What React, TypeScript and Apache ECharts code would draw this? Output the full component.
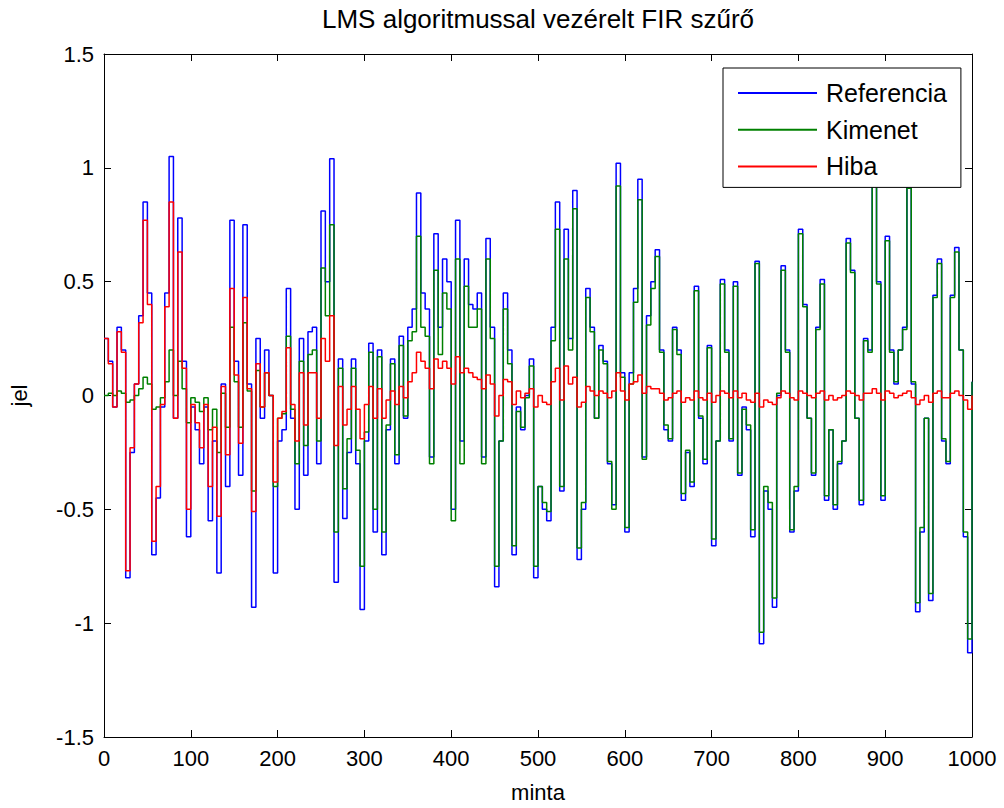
import React, { useEffect, useRef } from "react";
import * as echarts from "echarts";

const FONT = "'Liberation Sans', Arial, Helvetica, sans-serif";
const TITLE = "LMS algoritmussal vezérelt FIR szűrő";
const X_LABEL = "minta";
const Y_LABEL = "jel";
const SERIES_NAMES = ["Referencia", "Kimenet", "Hiba"];
const SERIES_COLORS = ["#0000ff", "#008000", "#ff0000"];

// sample spacing of the read values (one value every 5 samples, 0..1000)
const SAMPLE_STEP = 5;

// Referencia (reference signal)
const referencia = [
  0.25, 0.15, -0.05, 0.3, 0.2, -0.8, -0.25, 0.05, 0.35, 0.85,
  0.45, -0.7, -0.45, -0.05, 0.45, 1.05, -0.1, 0.78, 0.15, -0.62,
  -0.05, -0.15, -0.3, -0.05, -0.55, -0.2, -0.78, 0.05, -0.4, 0.77,
  0.15, -0.35, 0.75, 0.05, -0.93, 0.25, -0.1, 0.2, 0.0, -0.78,
  -0.2, -0.15, 0.47, -0.1, -0.5, 0.25, -0.35, 0.28, 0.3, -0.3,
  0.81, 0.5, 1.04, -0.82, 0.16, -0.54, -0.25, 0.16, -0.3, -0.94,
  -0.2, 0.23, -0.6, 0.2, -0.7, -0.15, 0.16, -0.3, 0.26, -0.1,
  0.3, 0.38, 0.89, 0.45, 0.38, -0.27, 0.71, 0.3, 0.6, 0.5,
  -0.5, 0.77, -0.2, 0.6, 0.4, 0.38, 0.45, -0.27, 0.69, 0.3,
  -0.84, -0.2, 0.45, 0.2, -0.7, -0.05, -0.15, 0.0, 0.16, -0.8,
  -0.4, -0.5, -0.55, 0.3, 0.85, -0.42, 0.73, 0.25, 0.9, -0.72,
  -0.5, 0.47, 0.3, -0.1, 0.22, 0.15, -0.3, -0.48, 1.02, 0.1,
  -0.6, 0.1, 0.47, 0.95, -0.27, 0.35, 0.5, 0.64, 0.2, -0.15,
  -0.2, 0.3, 0.2, -0.46, -0.25, -0.4, 0.48, -0.1, -0.3, 0.22,
  -0.66, -0.2, 0.51, 0.2, -0.2, 0.5, -0.35, -0.05, -0.15, -0.62,
  0.59, -1.09, -0.42, -0.5, -0.93, 0.0, 0.57, 0.2, -0.6, -0.42,
  0.73, 0.4, -0.1, -0.35, 0.3, 0.51, -0.46, -0.15, -0.5, -0.3,
  -0.2, 0.69, 0.55, -0.1, -0.48, 0.25, 0.2, 0.95, 0.5, -0.46,
  0.7, 0.2, 0.05, 0.2, 0.3, 0.93, 0.05, -0.95, -0.6, -0.1,
  -0.9, 0.44, 0.6, -0.2, -0.3, 0.44, 0.65, 0.2, -0.62, -1.13,
  0.06,
];

// Kimenet (filter output)
const kimenet = [
  0.0, 0.01, 0.0, 0.02, 0.01, -0.03, -0.02, 0.0, 0.03, 0.08,
  0.05, -0.06, -0.05, -0.01, 0.06, 0.2, 0.0, 0.15, 0.03, -0.12,
  -0.01, -0.03, -0.07, -0.01, -0.15, -0.06, -0.25, 0.01, -0.14, 0.3,
  0.06, -0.14, 0.32, 0.02, -0.42, 0.11, -0.05, 0.1, 0.0, -0.4,
  -0.1, -0.08, 0.26, -0.06, -0.3, 0.15, -0.22, 0.18, 0.2, -0.2,
  0.56, 0.35, 0.75, -0.6, 0.12, -0.41, -0.19, 0.12, -0.24, -0.75,
  -0.16, 0.19, -0.5, 0.17, -0.6, -0.13, 0.14, -0.26, 0.22, -0.09,
  0.24, 0.28, 0.7, 0.3, 0.26, -0.3, 0.55, 0.18, 0.45, 0.38,
  -0.55, 0.6, -0.3, 0.48, 0.3, 0.3, 0.38, -0.3, 0.6, 0.25,
  -0.75, -0.2, 0.38, 0.14, -0.66, -0.07, -0.14, -0.01, 0.13, -0.75,
  -0.4, -0.47, -0.51, 0.24, 0.73, -0.4, 0.6, 0.2, 0.82, -0.67,
  -0.47, 0.43, 0.28, -0.1, 0.2, 0.14, -0.29, -0.5, 0.92, 0.08,
  -0.58, 0.05, 0.41, 0.86, -0.28, 0.31, 0.47, 0.61, 0.19, -0.13,
  -0.19, 0.29, 0.18, -0.43, -0.24, -0.38, 0.46, -0.09, -0.28, 0.21,
  -0.63, -0.2, 0.49, 0.19, -0.19, 0.48, -0.34, -0.06, -0.13, -0.59,
  0.58, -1.04, -0.4, -0.47, -0.89, 0.01, 0.55, 0.19, -0.59, -0.4,
  0.71, 0.39, -0.1, -0.34, 0.29, 0.49, -0.44, -0.15, -0.48, -0.29,
  -0.2, 0.67, 0.54, -0.1, -0.46, 0.24, 0.19, 0.92, 0.49, -0.44,
  0.68, 0.19, 0.06, 0.2, 0.29, 0.91, 0.06, -0.91, -0.58, -0.1,
  -0.87, 0.43, 0.58, -0.19, -0.29, 0.43, 0.63, 0.2, -0.6, -1.07,
  0.06,
];

// Hiba (error signal)
const hiba = [
  0.25, 0.14, -0.05, 0.28, 0.19, -0.77, -0.23, 0.05, 0.32, 0.77,
  0.4, -0.64, -0.4, -0.04, 0.39, 0.85, -0.1, 0.63, 0.12, -0.5,
  -0.04, -0.12, -0.23, -0.04, -0.4, -0.14, -0.53, 0.04, -0.26, 0.47,
  0.09, -0.21, 0.43, 0.03, -0.51, 0.14, -0.05, 0.1, 0.0, -0.38,
  -0.1, -0.07, 0.21, -0.04, -0.2, 0.1, -0.13, 0.1, 0.1, -0.1,
  0.25, 0.15, 0.35, -0.22, 0.04, -0.13, -0.06, 0.04, -0.06, -0.19,
  -0.04, 0.04, -0.1, 0.03, -0.1, -0.02, 0.02, -0.04, 0.04, -0.01,
  0.06, 0.1, 0.19, 0.15, 0.12, 0.03, 0.16, 0.12, 0.15, 0.12,
  0.05, 0.17, 0.1, 0.12, 0.1, 0.08, 0.07, 0.03, 0.09, 0.05,
  -0.09, 0.0, 0.07, 0.06, -0.04, 0.02, -0.01, 0.01, 0.03, -0.05,
  0.0, -0.03, -0.04, 0.06, 0.12, -0.02, 0.13, 0.05, 0.08, -0.05,
  -0.03, 0.04, 0.02, 0.0, 0.02, 0.01, -0.01, 0.02, 0.1, 0.02,
  -0.02, 0.05, 0.06, 0.09, 0.01, 0.04, 0.03, 0.03, 0.01, -0.02,
  -0.01, 0.01, 0.02, -0.03, -0.01, -0.02, 0.02, -0.01, -0.02, 0.01,
  -0.03, 0.0, 0.02, 0.01, -0.01, 0.02, -0.01, 0.01, -0.02, -0.03,
  0.01, -0.05, -0.02, -0.03, -0.04, -0.01, 0.02, 0.01, -0.01, -0.02,
  0.02, 0.01, 0.0, -0.01, 0.01, 0.02, -0.02, 0.0, -0.02, -0.01,
  0.0, 0.02, 0.01, 0.0, -0.02, 0.01, 0.01, 0.03, 0.01, -0.02,
  0.02, 0.01, -0.01, 0.0, 0.01, 0.02, -0.01, -0.04, -0.02, 0.0,
  -0.03, 0.01, 0.02, -0.01, -0.01, 0.01, 0.02, 0.0, -0.02, -0.06,
  0.0,
];

const X_MIN = 0;
const X_MAX = 1000;
const X_INTERVAL = 100;
const Y_MIN = -1.5;
const Y_MAX = 1.5;
const Y_INTERVAL = 0.5;

const toPairs = (values: number[]) => values.map((v, i) => [i * SAMPLE_STEP, v]);

const axisLineStyle = { show: true, onZero: false, lineStyle: { color: "#000", width: 1 } };
const tickStyle = { show: true, inside: true, length: 7, lineStyle: { color: "#000", width: 1 } };
const plainNumber = (v: number) => String(v);

export default function App() {
  const ref = useRef<HTMLDivElement>(null);

  useEffect(() => {
    if (!ref.current) return;
    const chart = echarts.init(ref.current, undefined, { renderer: "svg" });
    const seriesValues = [referencia, kimenet, hiba];
    const option = {
      animation: false,
      backgroundColor: "#ffffff",
      textStyle: { fontFamily: FONT },
      grid: { left: 104, right: 32, top: 54, bottom: 69, containLabel: false },
      graphic: [
        {
          type: "text",
          x: 538,
          y: 19,
          style: {
            text: TITLE,
            fontSize: 26,
            fontFamily: FONT,
            fill: "#000",
            textAlign: "center",
            textVerticalAlign: "middle",
          },
        },
      ],
      legend: {
        data: SERIES_NAMES,
        orient: "vertical",
        left: 723,
        top: 68,
        backgroundColor: "#ffffff",
        borderColor: "#000",
        borderWidth: 1,
        borderRadius: 0,
        padding: [12, 14, 8, 15],
        itemWidth: 79,
        itemHeight: 2,
        itemGap: 10.7,
        icon: "rect",
        textStyle: {
          fontSize: 25,
          lineHeight: 26,
          color: "#000",
          fontFamily: FONT,
          padding: [0, 0, 0, 4],
        },
        z: 10,
      },
      xAxis: [
        {
          type: "value",
          position: "bottom",
          min: X_MIN,
          max: X_MAX,
          interval: X_INTERVAL,
          name: X_LABEL,
          nameLocation: "middle",
          nameGap: 44,
          nameTextStyle: { fontSize: 22, color: "#000", fontFamily: FONT },
          axisLine: axisLineStyle,
          axisTick: tickStyle,
          axisLabel: { fontSize: 22, color: "#000", margin: 10, fontFamily: FONT, formatter: plainNumber },
          splitLine: { show: false },
        },
        {
          type: "value",
          position: "top",
          min: X_MIN,
          max: X_MAX,
          interval: X_INTERVAL,
          axisLine: axisLineStyle,
          axisTick: tickStyle,
          axisLabel: { show: false },
          splitLine: { show: false },
        },
      ],
      yAxis: [
        {
          type: "value",
          position: "left",
          min: Y_MIN,
          max: Y_MAX,
          interval: Y_INTERVAL,
          name: Y_LABEL,
          nameLocation: "middle",
          nameGap: 74,
          nameRotate: 90,
          nameTextStyle: { fontSize: 22, color: "#000", fontFamily: FONT },
          axisLine: axisLineStyle,
          axisTick: tickStyle,
          axisLabel: { fontSize: 22, color: "#000", margin: 10, fontFamily: FONT, formatter: plainNumber },
          splitLine: { show: false },
        },
        {
          type: "value",
          position: "right",
          min: Y_MIN,
          max: Y_MAX,
          interval: Y_INTERVAL,
          axisLine: axisLineStyle,
          axisTick: tickStyle,
          axisLabel: { show: false },
          splitLine: { show: false },
        },
      ],
      series: SERIES_NAMES.map((name, k) => ({
        name,
        type: "line",
        step: "end",
        xAxisIndex: 0,
        yAxisIndex: 0,
        showSymbol: false,
        symbol: "none",
        color: SERIES_COLORS[k],
        lineStyle: { color: SERIES_COLORS[k], width: 1.5 },
        data: toPairs(seriesValues[k]),
        z: 2 + k,
      })),
    };
    chart.setOption(option as any);
    return () => chart.dispose();
  }, []);

  return (
    <div
      ref={ref}
      style={{ position: "absolute", left: 0, top: 0, width: 1004, height: 808, background: "#fff" }}
    />
  );
}
